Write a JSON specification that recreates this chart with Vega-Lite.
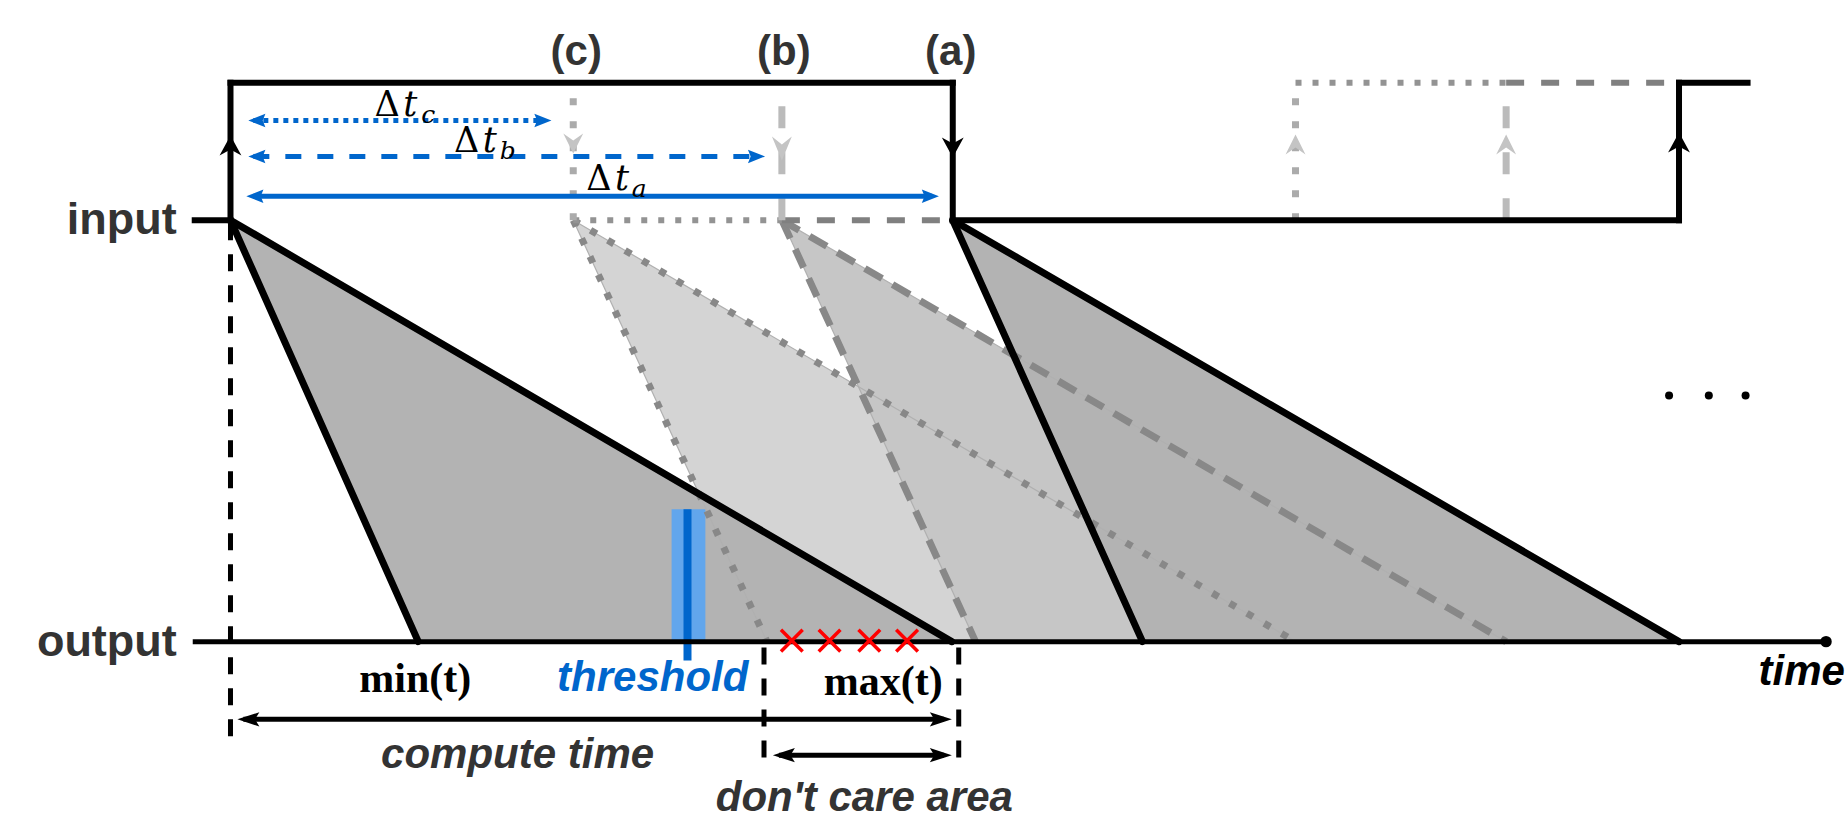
{
  "$schema": "https://vega.github.io/schema/vega-lite/v6.json",
  "width": 1845,
  "height": 819,
  "autosize": {"type": "fit", "contains": "padding"},
  "padding": 0,
  "background": "white",
  "config": {"view": {"stroke": null}},
  "resolve": {"scale": {"shape": "independent"}},
  "datasets": {
    "fills": [
      {"k": "c", "x": 577, "y": 221, "y2": 221},
      {"k": "c", "x": 772, "y": 334.5, "y2": 644},
      {"k": "c", "x": 1304, "y": 644, "y2": 644},
      {"k": "b", "x": 787, "y": 221, "y2": 221},
      {"k": "b", "x": 982, "y": 334.1, "y2": 644},
      {"k": "b", "x": 1516, "y": 644, "y2": 644},
      {"k": "A", "x": 232, "y": 221, "y2": 221},
      {"k": "A", "x": 421, "y": 331.1, "y2": 644},
      {"k": "A", "x": 958, "y": 644, "y2": 644},
      {"k": "D", "x": 959, "y": 221, "y2": 221},
      {"k": "D", "x": 1150, "y": 331.5, "y2": 644},
      {"k": "D", "x": 1690, "y": 644, "y2": 644}
    ],
    "arrows": [
      {"id": "rise1", "k": "black", "x": 221, "y": 156, "y2": 156},
      {"id": "rise1", "k": "black", "x": 232, "y": 136, "y2": 150},
      {"id": "rise1", "k": "black", "x": 243, "y": 156, "y2": 156},
      {"id": "fallA", "k": "black", "x": 948, "y": 138, "y2": 138},
      {"id": "fallA", "k": "black", "x": 959, "y": 144, "y2": 158},
      {"id": "fallA", "k": "black", "x": 970, "y": 138, "y2": 138},
      {"id": "rise2", "k": "black", "x": 1679, "y": 153, "y2": 153},
      {"id": "rise2", "k": "black", "x": 1690, "y": 133, "y2": 147},
      {"id": "rise2", "k": "black", "x": 1701, "y": 153, "y2": 153},
      {"id": "downC", "k": "grey", "x": 567, "y": 134, "y2": 134},
      {"id": "downC", "k": "grey", "x": 577, "y": 141, "y2": 154},
      {"id": "downC", "k": "grey", "x": 587, "y": 134, "y2": 134},
      {"id": "downB", "k": "grey", "x": 777, "y": 137, "y2": 137},
      {"id": "downB", "k": "grey", "x": 787, "y": 145, "y2": 161},
      {"id": "downB", "k": "grey", "x": 797, "y": 137, "y2": 137},
      {"id": "upC", "k": "grey", "x": 1294, "y": 155, "y2": 155},
      {"id": "upC", "k": "grey", "x": 1304, "y": 135, "y2": 148},
      {"id": "upC", "k": "grey", "x": 1314, "y": 155, "y2": 155},
      {"id": "upB", "k": "grey", "x": 1506, "y": 155, "y2": 155},
      {"id": "upB", "k": "grey", "x": 1516, "y": 135, "y2": 148},
      {"id": "upB", "k": "grey", "x": 1526, "y": 155, "y2": 155}
    ],
    "segs": [
      {"k": "outl", "x": 577, "y": 221, "x2": 772, "y2": 644},
      {"k": "outl", "x": 577, "y": 221, "x2": 1304, "y2": 644},
      {"k": "outl", "x": 787, "y": 221, "x2": 982, "y2": 644},
      {"k": "outl", "x": 787, "y": 221, "x2": 1516, "y2": 644},
      {"k": "cedge", "x": 577, "y": 221, "x2": 772, "y2": 644},
      {"k": "cedge", "x": 577, "y": 221, "x2": 1304, "y2": 644},
      {"k": "bedge", "x": 787, "y": 221, "x2": 982, "y2": 644},
      {"k": "bedge", "x": 787, "y": 221, "x2": 1516, "y2": 644},
      {"k": "hdot", "x": 577, "y": 221, "x2": 787, "y2": 221},
      {"k": "hdot", "x": 1304, "y": 83, "x2": 1516, "y2": 83},
      {"k": "hdash", "x": 787, "y": 221, "x2": 959, "y2": 221},
      {"k": "hdash", "x": 1516, "y": 83, "x2": 1690, "y2": 83},
      {"k": "vdot", "x": 577, "y": 221, "x2": 577, "y2": 97},
      {"k": "vdot", "x": 1304, "y": 221, "x2": 1304, "y2": 83},
      {"k": "vdash", "x": 787, "y": 221, "x2": 787, "y2": 97},
      {"k": "vdash", "x": 1516, "y": 221, "x2": 1516, "y2": 97},
      {"k": "bdash", "x": 232, "y": 224, "x2": 232, "y2": 740},
      {"k": "bdash", "x": 769, "y": 650, "x2": 769, "y2": 767},
      {"k": "bdash", "x": 965, "y": 650, "x2": 965, "y2": 767},
      {"k": "pulse", "x": 196, "y": 221, "x2": 232, "y2": 221},
      {"k": "pulse", "x": 232, "y": 221, "x2": 232, "y2": 83},
      {"k": "pulse", "x": 232, "y": 83, "x2": 959, "y2": 83},
      {"k": "pulse", "x": 959, "y": 83, "x2": 959, "y2": 221},
      {"k": "pulse", "x": 959, "y": 221, "x2": 1690, "y2": 221},
      {"k": "pulse", "x": 1690, "y": 221, "x2": 1690, "y2": 83},
      {"k": "pulse", "x": 1690, "y": 83, "x2": 1759, "y2": 83},
      {"k": "edge", "x": 232, "y": 221, "x2": 421, "y2": 644},
      {"k": "edge", "x": 232, "y": 221, "x2": 958, "y2": 644},
      {"k": "edge", "x": 959, "y": 221, "x2": 1150, "y2": 644},
      {"k": "edge", "x": 959, "y": 221, "x2": 1690, "y2": 644},
      {"k": "axis", "x": 194, "y": 644, "x2": 1838, "y2": 644},
      {"k": "barrow", "x": 245, "y": 722, "x2": 950, "y2": 722},
      {"k": "barrow", "x": 784, "y": 758, "x2": 950, "y2": 758},
      {"k": "thr", "x": 692, "y": 511, "x2": 692, "y2": 663},
      {"k": "bsol", "x": 255, "y": 197, "x2": 938, "y2": 197},
      {"k": "bdsh", "x": 255, "y": 157, "x2": 763, "y2": 157},
      {"k": "bdot", "x": 255, "y": 121, "x2": 548, "y2": 121}
    ],
    "heads": [
      {"k": "blackh", "dir": "left", "x": 250, "y": 722},
      {"k": "blackh", "dir": "right", "x": 947, "y": 722},
      {"k": "blackh", "dir": "left", "x": 789, "y": 758},
      {"k": "blackh", "dir": "right", "x": 947, "y": 758},
      {"k": "blue", "dir": "left", "x": 259, "y": 121},
      {"k": "blue", "dir": "right", "x": 546, "y": 121},
      {"k": "blue", "dir": "left", "x": 259, "y": 157},
      {"k": "blue", "dir": "right", "x": 761, "y": 157},
      {"k": "blue", "dir": "left", "x": 257, "y": 197},
      {"k": "blue", "dir": "right", "x": 936, "y": 197}
    ],
    "dots": [
      {"k": "end", "x": 1838, "y": 644},
      {"k": "ellipsis", "x": 1680, "y": 397},
      {"k": "ellipsis", "x": 1720, "y": 397},
      {"k": "ellipsis", "x": 1757, "y": 397}
    ],
    "crosses": [
      {"x": 797, "y": 643},
      {"x": 835, "y": 643},
      {"x": 875, "y": 643},
      {"x": 913, "y": 643}
    ],
    "labels": [
      {"k": "labr", "x": 182, "y": 221, "t": "input"},
      {"k": "labr", "x": 182, "y": 644, "t": "output"},
      {"k": "labc", "x": 580, "y": 52, "t": "(c)"},
      {"k": "labc", "x": 789, "y": 52, "t": "(b)"},
      {"k": "labc", "x": 957, "y": 52, "t": "(a)"},
      {"k": "it", "x": 521, "y": 758, "t": "compute time"},
      {"k": "it", "x": 870, "y": 801, "t": "don't care area"},
      {"k": "thr", "x": 657, "y": 680, "t": "threshold"},
      {"k": "time", "x": 1770, "y": 688, "t": "time"},
      {"k": "mm", "x": 418, "y": 681, "t": "min(t)"},
      {"k": "mm", "x": 889, "y": 685, "t": "max(t)"},
      {"k": "delta", "x": 377, "y": 116, "t": "Δ"},
      {"k": "tt", "x": 406, "y": 116, "t": "t"},
      {"k": "sub", "x": 424, "y": 123, "t": "c"},
      {"k": "delta", "x": 457, "y": 153, "t": "Δ"},
      {"k": "tt", "x": 486, "y": 153, "t": "t"},
      {"k": "sub", "x": 503, "y": 160, "t": "b"},
      {"k": "delta", "x": 590, "y": 191, "t": "Δ"},
      {"k": "tt", "x": 619, "y": 191, "t": "t"},
      {"k": "sub", "x": 636, "y": 198, "t": "a"}
    ]
  },
  "encoding": {
    "x": {"field": "x", "type": "quantitative", "scale": {"domain": [0, 1845], "nice": false, "zero": false}, "axis": null},
    "y": {"field": "y", "type": "quantitative", "scale": {"domain": [0, 819], "nice": false, "zero": false, "reverse": true}, "axis": null}
  },
  "layer": [
    {"data": {"name": "fills"}, "transform": [{"filter": "datum.k == 'c'"}], "mark": {"type": "area", "color": "#d4d4d4", "opacity": 1}, "encoding": {"y2": {"field": "y2"}}},
    {"data": {"name": "fills"}, "transform": [{"filter": "datum.k == 'b'"}], "mark": {"type": "area", "color": "#c6c6c6", "opacity": 1}, "encoding": {"y2": {"field": "y2"}}},
    {"data": {"name": "fills"}, "transform": [{"filter": "datum.k == 'A' || datum.k == 'D'"}], "mark": {"type": "area", "color": "#b3b3b3", "opacity": 1}, "encoding": {"y2": {"field": "y2"}, "detail": {"field": "k"}}},
    {"data": {"values": [{"x": 676, "x2": 710, "y": 511, "y2": 644}]}, "mark": {"type": "rect", "color": "#62a6ec", "opacity": 1}, "encoding": {"x2": {"field": "x2"}, "y2": {"field": "y2"}}},
    {"data": {"name": "segs"}, "transform": [{"filter": "datum.k == 'outl'"}], "mark": {"type": "rule", "color": "#b0b0b0", "strokeWidth": 1.2}, "encoding": {"x2": {"field": "x2"}, "y2": {"field": "y2"}}},
    {"data": {"name": "segs"}, "transform": [{"filter": "datum.k == 'cedge'"}], "mark": {"type": "rule", "color": "#888888", "strokeWidth": 7, "strokeDash": [7, 13], "strokeCap": "butt"}, "encoding": {"x2": {"field": "x2"}, "y2": {"field": "y2"}}},
    {"data": {"name": "segs"}, "transform": [{"filter": "datum.k == 'bedge'"}], "mark": {"type": "rule", "color": "#888888", "strokeWidth": 7, "strokeDash": [20, 12], "strokeCap": "butt"}, "encoding": {"x2": {"field": "x2"}, "y2": {"field": "y2"}}},
    {"data": {"name": "segs"}, "transform": [{"filter": "datum.k == 'hdot'"}], "mark": {"type": "rule", "color": "#939393", "strokeWidth": 6, "strokeDash": [6, 11], "strokeCap": "butt"}, "encoding": {"x2": {"field": "x2"}, "y2": {"field": "y2"}}},
    {"data": {"name": "segs"}, "transform": [{"filter": "datum.k == 'hdash'"}], "mark": {"type": "rule", "color": "#808080", "strokeWidth": 6, "strokeDash": [18, 17], "strokeCap": "butt"}, "encoding": {"x2": {"field": "x2"}, "y2": {"field": "y2"}}},
    {"data": {"name": "segs"}, "transform": [{"filter": "datum.k == 'vdot'"}], "mark": {"type": "rule", "color": "#ababab", "strokeWidth": 7, "strokeDash": [7, 16], "strokeCap": "butt"}, "encoding": {"x2": {"field": "x2"}, "y2": {"field": "y2"}}},
    {"data": {"name": "segs"}, "transform": [{"filter": "datum.k == 'vdash'"}], "mark": {"type": "rule", "color": "#bbbbbb", "strokeWidth": 7, "strokeDash": [22, 24], "strokeCap": "butt"}, "encoding": {"x2": {"field": "x2"}, "y2": {"field": "y2"}}},
    {"data": {"name": "segs"}, "transform": [{"filter": "datum.k == 'thr'"}], "mark": {"type": "rule", "color": "#0066cc", "strokeWidth": 8, "strokeCap": "butt"}, "encoding": {"x2": {"field": "x2"}, "y2": {"field": "y2"}}},
    {"data": {"name": "segs"}, "transform": [{"filter": "datum.k == 'bsol'"}], "mark": {"type": "rule", "color": "#0066cc", "strokeWidth": 5, "strokeCap": "butt"}, "encoding": {"x2": {"field": "x2"}, "y2": {"field": "y2"}}},
    {"data": {"name": "segs"}, "transform": [{"filter": "datum.k == 'bdsh'"}], "mark": {"type": "rule", "color": "#0066cc", "strokeWidth": 5, "strokeDash": [16, 16], "strokeCap": "butt"}, "encoding": {"x2": {"field": "x2"}, "y2": {"field": "y2"}}},
    {"data": {"name": "segs"}, "transform": [{"filter": "datum.k == 'bdot'"}], "mark": {"type": "rule", "color": "#0066cc", "strokeWidth": 5, "strokeDash": [5, 5], "strokeCap": "butt"}, "encoding": {"x2": {"field": "x2"}, "y2": {"field": "y2"}}},
    {"data": {"name": "segs"}, "transform": [{"filter": "datum.k == 'bdash'"}], "mark": {"type": "rule", "color": "#000000", "strokeWidth": 5, "strokeDash": [17, 14], "strokeCap": "butt"}, "encoding": {"x2": {"field": "x2"}, "y2": {"field": "y2"}}},
    {"data": {"name": "segs"}, "transform": [{"filter": "datum.k == 'pulse'"}], "mark": {"type": "rule", "color": "#000000", "strokeWidth": 6, "strokeCap": "square"}, "encoding": {"x2": {"field": "x2"}, "y2": {"field": "y2"}}},
    {"data": {"name": "segs"}, "transform": [{"filter": "datum.k == 'edge'"}], "mark": {"type": "rule", "color": "#000000", "strokeWidth": 7, "strokeCap": "round"}, "encoding": {"x2": {"field": "x2"}, "y2": {"field": "y2"}}},
    {"data": {"name": "segs"}, "transform": [{"filter": "datum.k == 'axis' || datum.k == 'barrow'"}], "mark": {"type": "rule", "color": "#000000", "strokeWidth": 5, "strokeCap": "butt"}, "encoding": {"x2": {"field": "x2"}, "y2": {"field": "y2"}}},
    {"data": {"name": "arrows"}, "transform": [{"filter": "datum.k == 'black'"}], "mark": {"type": "area", "color": "#000000", "opacity": 1}, "encoding": {"y2": {"field": "y2"}, "detail": {"field": "id"}}},
    {"data": {"name": "arrows"}, "transform": [{"filter": "datum.k == 'grey'"}], "mark": {"type": "area", "color": "#c4c4c4", "opacity": 1}, "encoding": {"y2": {"field": "y2"}, "detail": {"field": "id"}}},
    {"data": {"name": "heads"}, "transform": [{"filter": "datum.k == 'blackh'"}], "mark": {"type": "point", "filled": true, "color": "#000000", "opacity": 1, "strokeWidth": 0}, "encoding": {"size": {"value": 484}, "shape": {"field": "dir", "type": "nominal", "scale": {"domain": ["left", "right"], "range": ["M-1,0L1,-0.65L0.6,0L1,0.65Z", "M1,0L-1,-0.65L-0.6,0L-1,0.65Z"]}, "legend": null}}},
    {"data": {"name": "heads"}, "transform": [{"filter": "datum.k == 'blue'"}], "mark": {"type": "point", "filled": true, "color": "#0066cc", "opacity": 1, "strokeWidth": 0}, "encoding": {"size": {"value": 324}, "shape": {"field": "dir", "type": "nominal", "scale": {"domain": ["left", "right"], "range": ["M-1,0L0.9,-0.75L0.6,0L0.9,0.75Z", "M1,0L-0.9,-0.75L-0.6,0L-0.9,0.75Z"]}, "legend": null}}},
    {"data": {"name": "dots"}, "transform": [{"filter": "datum.k == 'end'"}], "mark": {"type": "circle", "color": "#000000", "opacity": 1}, "encoding": {"size": {"value": 130}}},
    {"data": {"name": "dots"}, "transform": [{"filter": "datum.k == 'ellipsis'"}], "mark": {"type": "circle", "color": "#000000", "opacity": 1}, "encoding": {"size": {"value": 64}}},
    {"data": {"name": "crosses"}, "mark": {"type": "point", "shape": "M-1,-1L1,1M1,-1L-1,1", "filled": false, "color": "#ff0000", "strokeWidth": 3.5, "opacity": 1}, "encoding": {"size": {"value": 470}}},
    {"data": {"name": "labels"}, "transform": [{"filter": "datum.k == 'labr'"}], "mark": {"type": "text", "font": "Liberation Sans", "fontWeight": "bold", "fontSize": 45, "color": "#333333", "align": "right", "baseline": "middle", "dx": -4}, "encoding": {"text": {"field": "t"}}},
    {"data": {"name": "labels"}, "transform": [{"filter": "datum.k == 'labc'"}], "mark": {"type": "text", "font": "Liberation Sans", "fontWeight": "bold", "fontSize": 42, "color": "#333333", "align": "center", "baseline": "middle"}, "encoding": {"text": {"field": "t"}}},
    {"data": {"name": "labels"}, "transform": [{"filter": "datum.k == 'it'"}], "mark": {"type": "text", "font": "Liberation Sans", "fontWeight": "bold", "fontStyle": "italic", "fontSize": 42, "color": "#333333", "align": "center", "baseline": "middle"}, "encoding": {"text": {"field": "t"}}},
    {"data": {"name": "labels"}, "transform": [{"filter": "datum.k == 'thr'"}], "mark": {"type": "text", "font": "Liberation Sans", "fontWeight": "bold", "fontStyle": "italic", "fontSize": 42, "color": "#0066cc", "align": "center", "baseline": "middle"}, "encoding": {"text": {"field": "t"}}},
    {"data": {"name": "labels"}, "transform": [{"filter": "datum.k == 'time'"}], "mark": {"type": "text", "font": "Liberation Sans", "fontWeight": "bold", "fontStyle": "italic", "fontSize": 42, "color": "#000000", "align": "left", "baseline": "alphabetic"}, "encoding": {"text": {"field": "t"}}},
    {"data": {"name": "labels"}, "transform": [{"filter": "datum.k == 'mm'"}], "mark": {"type": "text", "font": "Liberation Serif", "fontWeight": "bold", "fontSize": 42, "color": "#000000", "align": "center", "baseline": "middle"}, "encoding": {"text": {"field": "t"}}},
    {"data": {"name": "labels"}, "transform": [{"filter": "datum.k == 'delta'"}], "mark": {"type": "text", "font": "DejaVu Serif", "fontSize": 35, "color": "#000000", "align": "left", "baseline": "alphabetic"}, "encoding": {"text": {"field": "t"}}},
    {"data": {"name": "labels"}, "transform": [{"filter": "datum.k == 'tt'"}], "mark": {"type": "text", "font": "DejaVu Serif", "fontStyle": "italic", "fontSize": 35, "color": "#000000", "align": "left", "baseline": "alphabetic"}, "encoding": {"text": {"field": "t"}}},
    {"data": {"name": "labels"}, "transform": [{"filter": "datum.k == 'sub'"}], "mark": {"type": "text", "font": "DejaVu Serif", "fontStyle": "italic", "fontSize": 25, "color": "#000000", "align": "left", "baseline": "alphabetic"}, "encoding": {"text": {"field": "t"}}}
  ]
}
